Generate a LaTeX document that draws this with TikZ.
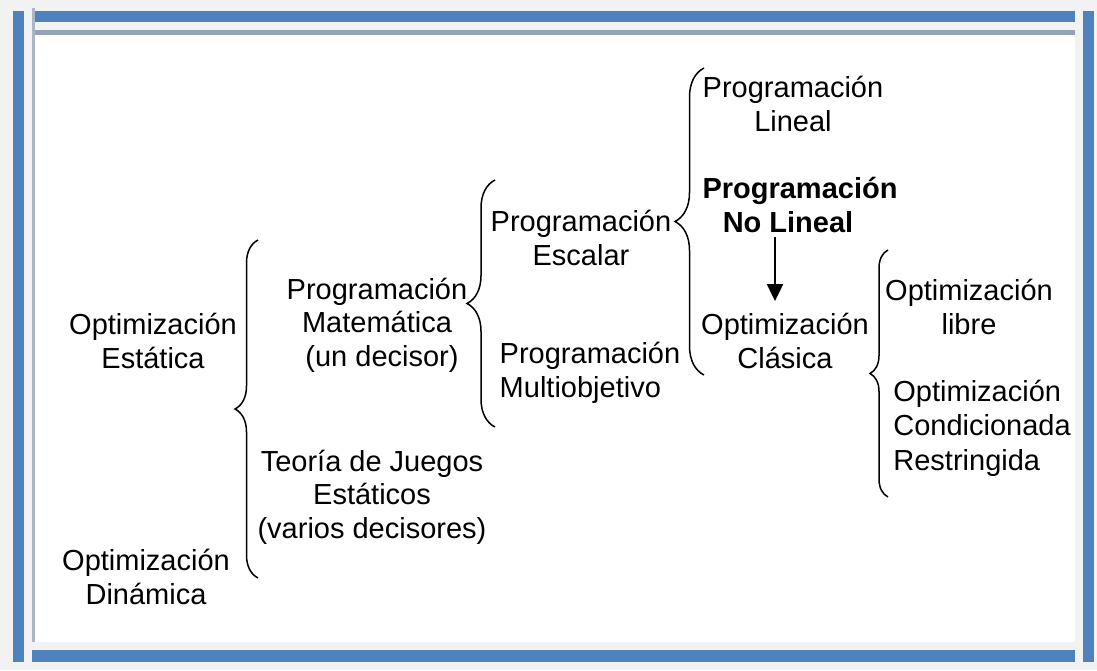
\documentclass[tikz,border=0pt]{standalone}
\usepackage{fontspec}
\setmainfont{Liberation Sans}
\usetikzlibrary{decorations.pathreplacing,arrows.meta}
\definecolor{barblue}{HTML}{4F81BD}
\definecolor{pagegray}{HTML}{F2F2F2}
\definecolor{rulegray}{HTML}{95A3B6}
\begin{document}
\begin{tikzpicture}[x=0.5pt,y=-0.5pt,
    txt/.style={align=center,inner sep=0pt,font=\fontsize{14.5}{16.7}\selectfont},
    brc/.style={decorate,decoration={brace,amplitude=#1},line width=0.75pt},
    arr/.style={-{Triangle[width=8pt,length=8.5pt]},line width=1pt}]
    \useasboundingbox (0,0) rectangle (1097,670);
    % frame
    \fill[pagegray] (0,0) rectangle (1097,670);
    \fill[white] (35,35) rectangle (1075,642);
    \fill[barblue] (13,11) rectangle (24,662);
    \fill[barblue] (32,11) rectangle (1075,22);
    \fill[barblue] (1083,11) rectangle (1094,662);
    \fill[barblue] (32,650) rectangle (1075,662);
    \fill[rulegray] (32,30) rectangle (1075,35);
    \fill[rulegray!80] (32,8) rectangle (35,642);

    \node[txt] (est)   at (153,341) {Optimización\\Estática};
    \node[txt] (din)   at (146,577) {Optimización\\Dinámica};
    \node[txt] (mat)   at (377,325) {Programación\\Matemática\\\hspace*{5pt}(un decisor)};
    \node[txt] (jue)   at (372,497) {Teoría de Juegos\\Estáticos\\(varios decisores)};
    \node[txt] (esc)   at (581,238) {Programación\\Escalar};
    \node[txt,align=left] (mul) at (590,373) {Programación\\Multiobjetivo};
    \node[txt] (lin)   at (793,104) {Programación\\Lineal};
    \node[txt,font=\fontsize{14.5}{16.7}\selectfont\bfseries] (nolin) at (800,205) {Programación\\No Lineal\hspace*{12pt}};
    \node[txt] (clas)  at (785,341) {Optimización\\Clásica};
    \node[txt] (lib)   at (969,307) {Optimización\\libre};
    \node[txt,align=left,anchor=west,font=\fontsize{14.5}{17.2}\selectfont] (cond) at (893,428) {Optimización\\Condicionada\\Restringida};

    % braces
    \coordinate (b1t) at (258,240);
    \coordinate (b1b) at (258,578);
    \coordinate (b2t) at (495,180);
    \coordinate (b2b) at (495,427);
    \coordinate (b3t) at (704,68);
    \coordinate (b3b) at (704,375);
    \coordinate (b4t) at (888,250);
    \coordinate (b4b) at (888,497);
    \draw[brc=11.5pt] (b1b) -- (b1t);
    \draw[brc=14pt]   (b2b) -- (b2t);
    \draw[brc=14.5pt] (b3b) -- (b3t);
    \draw[brc=9pt]    (b4b) -- (b4t);

    \coordinate (ax) at (775,0);
    \draw[arr,shorten <=2pt,shorten >=6pt] (nolin.south -| ax) -- (clas.north -| ax);
\end{tikzpicture}
\end{document}
